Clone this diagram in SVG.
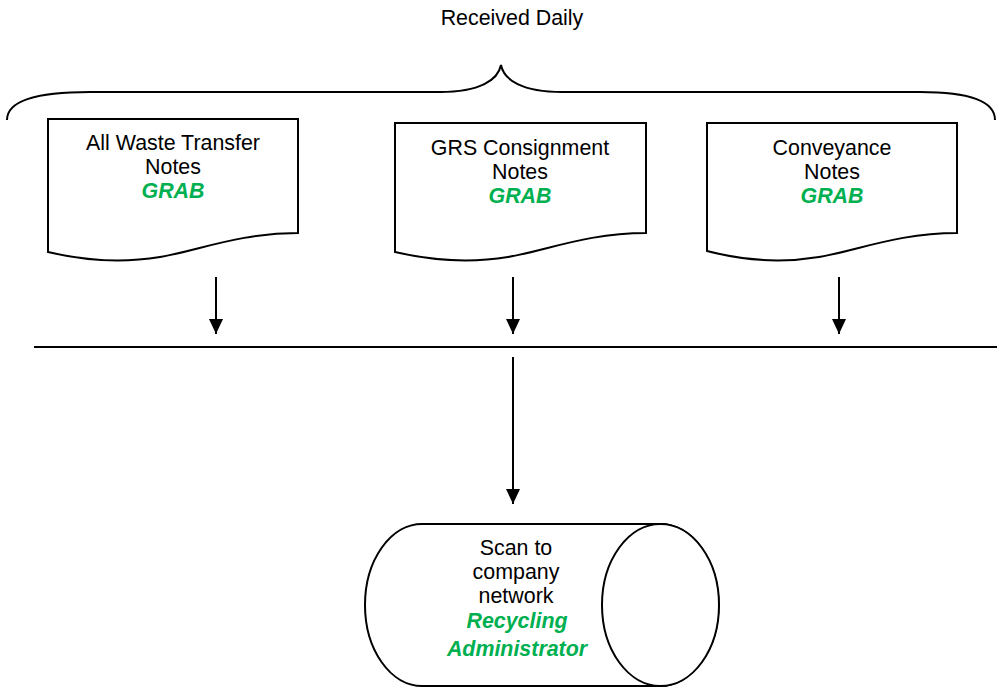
<svg xmlns="http://www.w3.org/2000/svg" width="998" height="690" viewBox="0 0 998 690">
<style>
.s{fill:#fff;stroke:#000;stroke-width:2}
.ln{fill:none;stroke:#000;stroke-width:2}
text{font-family:"Liberation Sans",Arial,sans-serif;font-size:21.4px;fill:#000;text-anchor:middle}
.g{fill:#00B050;font-weight:bold;font-style:italic}
</style>
<defs>
<marker id="ah" markerUnits="userSpaceOnUse" markerWidth="15" markerHeight="14" refX="15" refY="7" orient="auto" viewBox="0 0 15 14">
<path d="M0,0 L15,7 L0,14 Z" fill="#000"/>
</marker>
</defs>
<rect width="998" height="690" fill="#fff"/>
<g id="brace">
<path class="ln" d="M7,120 C7,100 40,92 90,92 L440,92 C480,92 498,80 501,65 C504,80 522,92 562,92 L920,92 C965,92 995,100 995,120"/>
<text x="512" y="25">Received Daily</text>
</g>
<g id="doc1">
<path class="s" d="M48,119 H298 V233 C240,233 200,250 160,257 C130,262 90,262 48,252 Z"/>
<text x="173" y="150">All Waste Transfer</text>
<text x="173" y="174">Notes</text>
<text class="g" x="173" y="198">GRAB</text>
</g>
<g id="doc2">
<path class="s" d="M395,123 H646 V233 C588,233 548,250 508,257 C478,262 438,262 395,252 Z"/>
<text x="520" y="155">GRS Consignment</text>
<text x="520" y="179">Notes</text>
<text class="g" x="520" y="203">GRAB</text>
</g>
<g id="doc3">
<path class="s" d="M707,123 H957 V233 C899,233 859,250 819,257 C789,262 749,262 707,251 Z"/>
<text x="832" y="155">Conveyance</text>
<text x="832" y="179">Notes</text>
<text class="g" x="832" y="203">GRAB</text>
</g>
<g id="scan">
<path class="s" d="M422,524 L660,524 A58.5,81 0 0 1 660,686 L422,686 A57,81 0 0 1 422,524 Z"/>
<ellipse class="s" cx="660.5" cy="605" rx="58.5" ry="81"/>
<text x="516" y="555">Scan to</text>
<text x="516" y="579">company</text>
<text x="516" y="603">network</text>
<text class="g" x="517" y="628">Recycling</text>
<text class="g" x="517" y="656">Administrator</text>
</g>
<g id="connectors">
<line class="ln" x1="34" y1="347" x2="997" y2="347"/>
<line class="ln" x1="216" y1="277" x2="216" y2="334" marker-end="url(#ah)"/>
<line class="ln" x1="513" y1="277" x2="513" y2="334" marker-end="url(#ah)"/>
<line class="ln" x1="839" y1="277" x2="839" y2="334" marker-end="url(#ah)"/>
<line class="ln" x1="513" y1="357" x2="513" y2="504" marker-end="url(#ah)"/>
</g>
</svg>
